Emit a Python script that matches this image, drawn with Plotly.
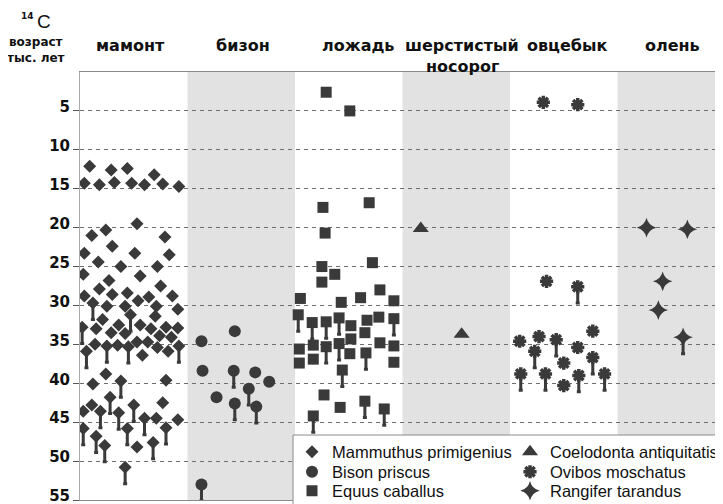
import plotly.graph_objects as go

# ---------------- data ----------------
columns = ["мамонт", "бизон", "ложадь", "шерстистый", "овцебык", "олень"]
column_sub = ["", "", "", "носорог", "", ""]
y_ticks = [5, 10, 15, 20, 25, 30, 35, 40, 45, 50, 55]

species = ["Mammuthus primigenius", "Bison priscus", "Equus caballus",
           "Coelodonta antiquitatis", "Ovibos moschatus", "Rangifer tarandus"]

mammoth_x = [0.09, 0.29, 0.44, 0.69, 0.04, 0.18, 0.32, 0.48, 0.60, 0.77, 0.92,
             0.53, 0.24, 0.11, 0.79, 0.30, 0.04, 0.51, 0.83, 0.17, 0.38,
             0.72, 0.03, 0.56, 0.27, 0.18, 0.75, 0.44, 0.04, 0.30, 0.64,
             0.86, 0.12, 0.25, 0.42, 0.54, 0.71, 0.91, 0.47, 0.70,
             0.21, 0.02, 0.15, 0.29, 0.36, 0.42, 0.56, 0.66, 0.80, 0.91,
             0.74, 0.85, 0.14, 0.25, 0.35, 0.45, 0.53, 0.63, 0.72, 0.82,
             0.92, 0.06, 0.58,
             0.24, 0.38, 0.12, 0.80, 0.28, 0.77, 0.11, 0.50, 0.03, 0.19,
             0.36, 0.60, 0.71, 0.91, 0.03, 0.44, 0.80, 0.15, 0.53, 0.23,
             0.68, 0.42]
mammoth_age = [12.1, 12.6, 12.4, 13.2, 14.3, 14.5, 14.2, 14.3, 14.5, 14.4, 14.7,
               19.5, 20.3, 21.0, 21.2, 22.4, 23.3, 23.3, 23.5, 24.4, 25.0,
               25.0, 26.0, 26.2, 26.8, 27.9, 27.5, 28.4, 28.8, 28.6, 28.9,
               28.8, 29.7, 30.1, 30.1, 29.4, 30.1, 30.5, 31.2, 31.4,
               31.8, 32.8, 33.0, 33.5, 32.5, 33.6, 32.5, 33.0, 32.8, 32.9,
               33.9, 34.1, 35.0, 35.2, 35.1, 35.3, 34.7, 34.7, 35.4, 35.9,
               35.2, 35.9, 36.4,
               38.8, 39.7, 40.1, 39.6, 41.8, 42.5, 42.8, 42.8, 43.6, 43.6,
               43.8, 44.5, 44.5, 44.7, 45.8, 45.8, 45.7, 46.8, 48.2, 48.0,
               47.6, 50.8]
mammoth_older = [0, 0, 0, 0, 0, 0, 0, 0, 0, 0, 0,
                 0, 0, 0, 0, 0, 0, 0, 0, 0, 0,
                 0, 0, 0, 0, 0, 0, 0, 0, 0, 0,
                 0, 1, 0, 0, 0, 0, 0, 1, 0,
                 0, 1, 0, 0, 0, 0, 0, 0, 0, 0,
                 0, 0, 0, 1, 0, 1, 0, 0, 0, 0,
                 1, 1, 0,
                 0, 1, 0, 0, 1, 0, 0, 1, 0, 1,
                 1, 1, 0, 0, 1, 1, 1, 1, 0, 1,
                 1, 1]

bison_x = [1.44, 1.13, 1.14, 1.43, 1.63, 1.76, 1.57, 1.27, 1.44, 1.64, 1.13]
bison_age = [33.3, 34.6, 38.4, 38.4, 38.6, 39.8, 40.7, 41.8, 42.6, 43.0, 53.0]
bison_older = [0, 0, 0, 1, 0, 0, 1, 0, 1, 1, 1]

horse_x = [2.29, 2.51, 2.26, 2.69, 2.28, 2.72, 2.25, 2.37, 2.25, 2.79, 2.05,
           2.61, 2.43, 2.92,
           2.03, 2.16, 2.29, 2.41, 2.52, 2.67, 2.78, 2.92, 2.65, 2.52, 2.04,
           2.17, 2.29, 2.41, 2.51, 2.66, 2.79, 2.92, 2.04, 2.17, 2.92, 2.44,
           2.27, 2.42, 2.65, 2.83, 2.17]
horse_age = [2.6, 5.0, 17.4, 16.8, 20.7, 24.5, 25.0, 26.0, 27.0, 28.0, 29.1,
             29.0, 29.6, 29.4,
             31.2, 32.2, 32.1, 31.6, 32.6, 31.9, 31.5, 31.7, 33.5, 34.3, 35.6,
             35.1, 35.3, 34.9, 36.2, 36.1, 34.8, 35.2, 37.4, 36.9, 37.3, 38.3,
             41.5, 43.1, 42.3, 43.3, 44.2]
horse_older = [0, 0, 0, 0, 0, 0, 0, 0, 0, 0, 0,
               0, 0, 0,
               1, 1, 1, 1, 0, 0, 0, 1, 0, 0, 0,
               0, 1, 1, 0, 1, 0, 0, 0, 0, 0, 1,
               0, 0, 1, 1, 1]

rhino_x = [3.17, 3.55]
rhino_age = [20.1, 33.7]
rhino_older = [0, 0]

muskox_x = [4.31, 4.63, 4.34, 4.63, 4.09, 4.27, 4.43, 4.77, 4.23, 4.63, 4.77,
            4.50, 4.10, 4.33, 4.64, 4.88, 4.50]
muskox_age = [3.9, 4.2, 26.9, 27.6, 34.6, 34.0, 34.4, 33.3, 35.9, 35.4, 36.7,
              37.4, 38.8, 38.8, 39.0, 38.8, 40.3]
muskox_older = [0, 0, 0, 1, 0, 0, 1, 0, 1, 0, 1, 0, 1, 1, 1, 1, 0]

reindeer_x = [5.27, 5.65, 5.42, 5.38, 5.61]
reindeer_age = [20.0, 20.2, 26.9, 30.6, 34.1]
reindeer_older = [0, 0, 0, 0, 1]

# ---------------- style ----------------
INK = "#3a3a3a"
STEM = 2.1
W, H = 723, 504
PAGE_OFF = 8              # default page margin around the plot div
ML, MT, MB = 72, 64, 12   # plot area: screen x 80.., y 72..500
COL_PX = 107.5
plot_w = W - ML
plot_h = H - MT - MB


def px_x(px):
    return (px - PAGE_OFF - ML) / plot_w


def px_y(py):
    return 1 - (py - PAGE_OFF - MT) / plot_h


# legend slot (screen pixel anchor of each legend entry)
legend_pos = [(292, 452), (292, 472), (292, 491), (510, 452), (510, 472), (510, 491)]

series = [
    (species[0], mammoth_x, mammoth_age, mammoth_older, "diamond", 10),
    (species[1], bison_x, bison_age, bison_older, "circle", 12),
    (species[2], horse_x, horse_age, horse_older, "square", 11),
    (species[3], rhino_x, rhino_age, rhino_older, "triangle-up", 14),
    (species[4], muskox_x, muskox_age, muskox_older, "asterisk-open", 11),
    (species[5], reindeer_x, reindeer_age, reindeer_older, "star-diamond", 14),
]

fig = go.Figure()
lfont = dict(family="Liberation Sans", size=16.5, color="#111")
legends = {}
for k, (name, xs, ys, older, sym, size) in enumerate(series):
    lg = "legend" if k == 0 else "legend%d" % (k + 1)
    marker = dict(symbol=sym, size=size, color=INK)
    if sym == "asterisk-open":
        marker["line"] = dict(color=INK, width=3.5)
    else:
        marker["line"] = dict(width=0)
    fig.add_trace(go.Scatter(
        x=xs, y=ys, mode="markers", name=name, legend=lg,
        marker=marker,
        error_y=dict(type="data", symmetric=False,
                     array=[STEM * o for o in older],
                     arrayminus=[0] * len(older),
                     color=INK, thickness=3, width=2),
    ))
    lx, ly = legend_pos[k]
    legends[lg] = dict(x=px_x(lx), y=px_y(ly), xanchor="left", yanchor="middle",
                       bgcolor="rgba(0,0,0,0)", font=lfont, itemsizing="trace")

shapes = []
for i in range(len(columns)):
    if i % 2 == 1:
        shapes.append(dict(type="rect", xref="x", yref="y domain",
                           x0=i, x1=i + 1, y0=0, y1=1,
                           fillcolor="#e2e2e2", line=dict(width=0),
                           layer="below"))
# legend box
shapes.append(dict(type="rect", xref="paper", yref="paper",
                   x0=px_x(293), x1=1.05, y0=-0.1, y1=px_y(435),
                   fillcolor="white", line=dict(color="#8a8a8a", width=1),
                   layer="above"))

annotations = []
hfont = dict(family="DejaVu Sans", size=16, color="#111", weight="bold")
xshift = [-3, 2, 9, 6, 3, 1]
for i, (t, s) in enumerate(zip(columns, column_sub)):
    annotations.append(dict(text=t, x=i + 0.5, xref="x", y=px_y(46),
                            yref="paper", showarrow=False, font=hfont,
                            xanchor="center", yanchor="middle", xshift=xshift[i]))
    if s:
        annotations.append(dict(text=s, x=i + 0.5, xref="x", y=px_y(66),
                                yref="paper", showarrow=False, font=hfont,
                                xanchor="center", yanchor="middle", xshift=xshift[i]))

sfont = dict(family="DejaVu Sans", size=12, color="#111", weight="bold")
annotations += [
    dict(text="14", x=px_x(36), y=px_y(16), xref="paper", yref="paper",
         showarrow=False, xanchor="right", yanchor="middle",
         font=dict(family="DejaVu Sans", size=9, color="#111", weight="bold")),
    dict(text="C", x=px_x(35), y=px_y(21), xref="paper", yref="paper",
         showarrow=False, xanchor="left", yanchor="middle",
         font=dict(family="Liberation Sans", size=19, color="#111")),
    dict(text="возраст", x=px_x(36), y=px_y(42), xref="paper", yref="paper",
         showarrow=False, xanchor="center", yanchor="middle", font=sfont),
    dict(text="тыс. лет", x=px_x(36), y=px_y(58), xref="paper", yref="paper",
         showarrow=False, xanchor="center", yanchor="middle", font=sfont),
]

fig.update_layout(
    width=W, height=H,
    margin=dict(l=ML, r=0, t=MT, b=MB, pad=0, autoexpand=False),
    paper_bgcolor="white", plot_bgcolor="white",
    showlegend=True,
    xaxis=dict(range=[0, plot_w / COL_PX], showgrid=False, zeroline=False,
               showticklabels=False, ticks="", showline=True, mirror=True,
               linecolor="#8a8a8a", linewidth=1, fixedrange=True),
    yaxis=dict(range=[55, 0], tickvals=y_ticks, ticktext=[str(v) for v in y_ticks],
               showgrid=True, gridcolor="#6e6e6e", griddash="4px,4px", gridwidth=1,
               zeroline=False, ticks="outside", ticklen=6, tickcolor="#555",
               ticklabelshift=4, ticklabeloverflow="allow",
               showline=True, linecolor="#aaaaaa", linewidth=1,
               tickfont=dict(family="DejaVu Sans", size=15, color="#111", weight="bold")),
    shapes=shapes,
    annotations=annotations,
    **legends,
)

fig.write_html("out.html")
